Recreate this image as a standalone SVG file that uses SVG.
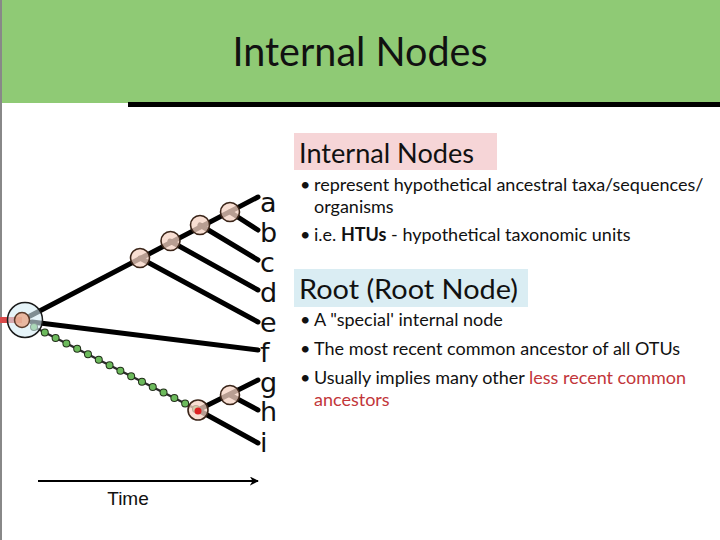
<svg xmlns="http://www.w3.org/2000/svg" width="720" height="540" viewBox="0 0 720 540">
<defs>
<style>
.branch{stroke:#000;stroke-width:5;fill:none;stroke-linecap:round}
.node{fill:#f6d3c3;fill-opacity:0.75;stroke:#3a2418;stroke-width:1.6}
.leaf{font-family:"DejaVu Sans",sans-serif;font-size:27px;fill:#111}
.slide{font-family:Lato,"Open Sans",sans-serif;fill:#111}
.h{font-size:27px}
.b{font-size:18px}
.red{fill:#c2363a}
</style>
<marker id="arr" viewBox="0 0 10 10" refX="9" refY="5" markerWidth="9" markerHeight="9" orient="auto" markerUnits="userSpaceOnUse">
<path d="M0,0 L10,5 L0,10 L3,5 Z" fill="#000"/>
</marker>
</defs>
<rect x="0" y="0" width="720" height="540" fill="#fff"/>
<g id="header">
<rect x="0" y="0" width="720" height="103" fill="#8fca75"/>
<rect x="128" y="102" width="592" height="5" fill="#000"/>
<text x="360" y="66" text-anchor="middle" class="slide" font-size="40" textLength="255" lengthAdjust="spacingAndGlyphs">Internal Nodes</text>
</g>
<line x1="1" y1="0" x2="1" y2="540" stroke="#888" stroke-width="2"/>
<g id="connectors">
<line x1="0" y1="320" x2="22" y2="320" stroke="#d94a4a" stroke-width="6"/>
<path class="branch" d="M30,316 L258,197"/>
<path class="branch" d="M140,258 L258,322"/>
<path class="branch" d="M170,241 L258,290"/>
<path class="branch" d="M200,225 L258,260"/>
<path class="branch" d="M230,212 L258,230"/>
<path class="branch" d="M32,322 L258,350"/>
<path class="branch" d="M198,410 L258,380"/>
<path class="branch" d="M230,395 L258,410"/>
<path class="branch" d="M198,410 L258,443"/>
<line x1="34" y1="327" x2="198" y2="410" stroke="#2b2b2b" stroke-width="2.5"/>
<line x1="34" y1="327" x2="198" y2="410" stroke="#22301a" stroke-width="8" stroke-linecap="round" stroke-dasharray="0 12.1"/>
<line x1="34" y1="327" x2="198" y2="410" stroke="#6cba5c" stroke-width="6" stroke-linecap="round" stroke-dasharray="0 12.1"/>
<line x1="38" y1="481" x2="258" y2="481" stroke="#000" stroke-width="2.2" marker-end="url(#arr)"/>
</g>
<g id="root">
<circle cx="25" cy="320" r="17.5" fill="#d6edf5" fill-opacity="0.6" stroke="#1a1a1a" stroke-width="1.5"/>
<circle cx="22" cy="320" r="7.5" fill="#e8a88a" fill-opacity="0.8" stroke="#5a3a2a" stroke-width="1.5"/>
</g>
<g id="n1"><circle class="node" cx="140" cy="258" r="9.5"/></g>
<g id="n2"><circle class="node" cx="170.5" cy="241" r="9.5"/></g>
<g id="n3"><circle class="node" cx="200" cy="225" r="9.5"/></g>
<g id="n4"><circle class="node" cx="230" cy="212" r="9.5"/></g>
<g id="n5"><circle class="node" cx="198" cy="410" r="10"/><circle cx="198" cy="411" r="3.5" fill="#d22"/></g>
<g id="n6"><circle class="node" cx="230" cy="395" r="9.5"/></g>
<g id="leaves">
<text class="leaf" x="260" y="212">a</text>
<text class="leaf" x="260" y="242">b</text>
<text class="leaf" x="260" y="272">c</text>
<text class="leaf" x="260" y="302">d</text>
<text class="leaf" x="260" y="332">e</text>
<text class="leaf" x="260" y="362">f</text>
<text class="leaf" x="260" y="392">g</text>
<text class="leaf" x="260" y="421">h</text>
<text class="leaf" x="260" y="452">i</text>
</g>
<g id="time"><text x="128" y="505" text-anchor="middle" font-family="Liberation Sans,Arial,sans-serif" font-size="19" fill="#111">Time</text></g>
<g id="internal-text">
<rect x="294" y="133" width="203" height="37" fill="#f6d5d7"/>
<text class="slide h" x="299" y="163" textLength="175" lengthAdjust="spacingAndGlyphs">Internal Nodes</text>
<text class="slide b" x="300" y="191">• <tspan x="314">represent hypothetical ancestral taxa/sequences/</tspan></text>
<text class="slide b" x="314" y="213">organisms</text>
<text class="slide b" x="300" y="241">• <tspan x="314">i.e. </tspan><tspan font-weight="bold">HTUs</tspan> - hypothetical taxonomic units</text>
</g>
<g id="root-text">
<rect x="294" y="269" width="234" height="38" fill="#daedf3"/>
<text class="slide h" x="299" y="299" textLength="219" lengthAdjust="spacingAndGlyphs">Root (Root Node)</text>
<text class="slide b" x="300" y="326">• <tspan x="314">A "special' internal node</tspan></text>
<text class="slide b" x="300" y="355">• <tspan x="314">The most recent common ancestor of all OTUs</tspan></text>
<text class="slide b" x="300" y="384">• <tspan x="314">Usually implies many other </tspan><tspan class="red">less recent common</tspan></text>
<text class="slide b red" x="314" y="406">ancestors</text>
</g>
</svg>
